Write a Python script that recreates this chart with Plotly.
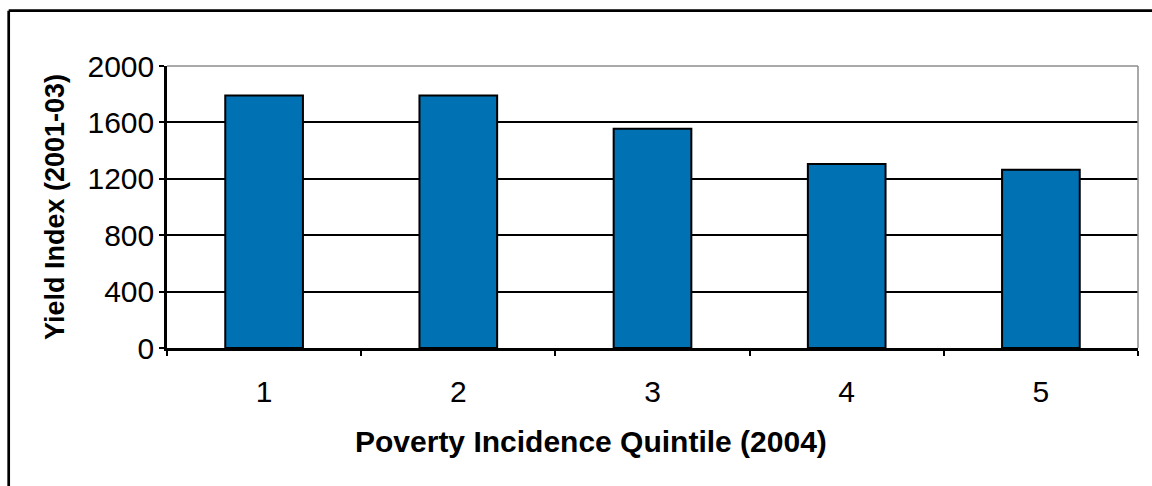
import plotly.graph_objects as go

# Yield index by poverty incidence quintile
quintiles = ["1", "2", "3", "4", "5"]
yield_index = [1790, 1790, 1555, 1305, 1265]
y_ticks = [0, 400, 800, 1200, 1600, 2000]

FONT = "Liberation Sans, Arial, sans-serif"
W, H = 1152, 486
L, R, T, B = 167, 14, 66, 138
pw, ph = W - L - R, H - T - B


def px_x(x):
    return (x - L) / pw


def px_y(y):
    return (H - B - y) / ph


fig = go.Figure(
    go.Bar(
        x=quintiles,
        y=yield_index,
        width=0.4,
        marker=dict(color="#0071B3", line=dict(color="black", width=2)),
    )
)

fig.update_layout(
    width=W,
    height=H,
    margin=dict(l=L, r=R, t=T, b=B, pad=0),
    paper_bgcolor="white",
    plot_bgcolor="white",
    showlegend=False,
    font=dict(family=FONT, color="black", size=30),
    xaxis=dict(
        type="category",
        showline=True,
        linecolor="black",
        linewidth=2.5,
        ticks="outside",
        tickson="boundaries",
        ticklen=5,
        tickwidth=1.8,
        tickcolor="black",
        showgrid=False,
        ticklabelstandoff=15,
        tickfont=dict(size=30),
    ),
    yaxis=dict(
        range=[0, 2000],
        tickvals=y_ticks,
        showline=True,
        linecolor="black",
        linewidth=2.5,
        ticks="outside",
        ticklen=5,
        tickwidth=1.8,
        tickcolor="black",
        showgrid=True,
        gridcolor="black",
        gridwidth=2,
        zeroline=False,
        ticklabelstandoff=-1,
        tickfont=dict(size=30),
    ),
    shapes=[
        # gray plot-area border (top and right)
        dict(type="line", xref="paper", yref="paper", x0=0, x1=1, y0=1, y1=1,
             line=dict(color="#8c8c8c", width=1.5), layer="above"),
        dict(type="line", xref="paper", yref="paper", x0=1, x1=1, y0=0, y1=1,
             line=dict(color="#8c8c8c", width=1.5), layer="above"),
        # outer chart frame
        dict(type="line", xref="paper", yref="paper",
             x0=px_x(8.7), x1=px_x(8.7), y0=px_y(500), y1=px_y(10.7),
             line=dict(color="black", width=2.7)),
        dict(type="line", xref="paper", yref="paper",
             x0=px_x(8.7), x1=px_x(1170), y0=px_y(10.7), y1=px_y(10.7),
             line=dict(color="black", width=2.7)),
    ],
    annotations=[
        dict(text="<b>Poverty Incidence Quintile (2004)</b>", xref="paper", yref="paper",
             x=px_x(591), y=px_y(441), xanchor="center", yanchor="middle",
             showarrow=False, font=dict(size=30)),
        dict(text="<b>Yield Index (2001-03)</b>", xref="paper", yref="paper",
             x=px_x(55), y=px_y(207), xanchor="center", yanchor="middle",
             textangle=-90, showarrow=False, font=dict(size=27)),
    ],
)

fig.write_html("out.html")
